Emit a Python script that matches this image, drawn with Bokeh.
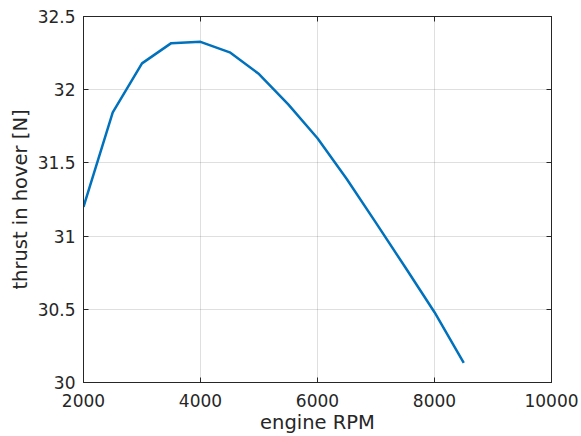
from bokeh.plotting import figure
from bokeh.models import FixedTicker, LinearAxis, CustomJSTickFormatter
from bokeh.embed import file_html
from bokeh.resources import INLINE

rpm = [2000, 2500, 3000, 3500, 4000, 4500, 5000, 5500, 6000, 6500, 7000, 7500, 8000, 8500]
thrust = [31.20, 31.845, 32.18, 32.318, 32.327, 32.255, 32.107, 31.90, 31.668, 31.39,
          31.09, 30.787, 30.48, 30.134]

x_ticks = [2000, 4000, 6000, 8000, 10000]
y_ticks = [30, 30.5, 31, 31.5, 32, 32.5]

AX = "#262626"
FONT = "DejaVu Sans"

p = figure(width=581, height=436, output_backend="svg", toolbar_location=None,
           x_range=(2000, 10000), y_range=(30, 32.5),
           min_border_left=83, min_border_right=30, min_border_top=16, min_border_bottom=54)
p.background_fill_color = "white"
p.border_fill_color = "white"
p.outline_line_color = AX
p.outline_line_width = 1

p.line(rpm, thrust, line_color="#0072BD", line_width=2.5)

fmt = CustomJSTickFormatter(code="return String(tick);")
blank = CustomJSTickFormatter(code="return '';")

for ax in (p.xaxis[0], p.yaxis[0]):
    ax.formatter = fmt
    ax.major_tick_in = 5
    ax.major_tick_out = 0
    ax.minor_tick_line_color = None
    ax.axis_line_color = AX
    ax.major_tick_line_color = AX
    ax.major_label_text_color = AX
    ax.major_label_text_font = FONT
    ax.major_label_text_font_size = "17px"
    ax.axis_label_text_font = FONT
    ax.axis_label_text_font_size = "19.5px"
    ax.axis_label_text_font_style = "normal"
    ax.axis_label_text_color = AX

p.xaxis[0].ticker = FixedTicker(ticks=x_ticks)
p.yaxis[0].ticker = FixedTicker(ticks=y_ticks)
p.xaxis[0].axis_label = "engine RPM"
p.yaxis[0].axis_label = "thrust in hover [N]"
p.xaxis[0].major_label_standoff = 11
p.yaxis[0].major_label_standoff = 8
p.xaxis[0].axis_label_standoff = 1
p.yaxis[0].axis_label_standoff = 3

for loc, ticks in (("above", x_ticks), ("right", y_ticks)):
    a = LinearAxis(ticker=FixedTicker(ticks=ticks), formatter=blank,
                   major_label_text_font_size="1px",
                   major_label_standoff=0, major_tick_in=5, major_tick_out=0,
                   minor_tick_line_color=None, axis_line_color=AX,
                   major_tick_line_color=AX)
    p.add_layout(a, loc)

p.xgrid.ticker = FixedTicker(ticks=x_ticks)
p.ygrid.ticker = FixedTicker(ticks=y_ticks)
p.xgrid.grid_line_color = AX
p.ygrid.grid_line_color = AX
p.xgrid.grid_line_alpha = 0.15
p.ygrid.grid_line_alpha = 0.15

open("out.html", "w").write(file_html(p, INLINE))
